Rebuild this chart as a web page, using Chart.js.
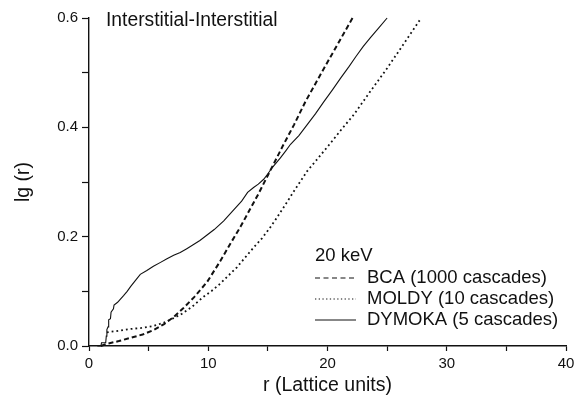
<!DOCTYPE html>
<html>
<head>
<meta charset="utf-8">
<script src="https://cdn.jsdelivr.net/npm/chart.js@4/dist/chart.umd.min.js"></script>
<style>
  html, body { margin: 0; padding: 0; background: #fff; }
  #wrap { width: 586px; height: 395px; }
</style>
</head>
<body>
<div id="wrap"><canvas id="chart" width="586" height="395"></canvas></div>
<script>
// r values (lattice units) and lg(r) for each curve
const bcaR = [1.0, 1.5, 2.5, 3.5, 4.5, 5.4, 6.3, 7.1, 7.9, 8.8, 9.9, 11.0, 11.85, 12.7, 13.5, 14.2, 14.9, 15.6, 16.3, 17.2, 18.15, 19.5, 20.8, 22.1];
const bcaY = [0, 0.004, 0.009, 0.015, 0.021, 0.029, 0.04, 0.053, 0.069, 0.089, 0.117, 0.155, 0.187, 0.218, 0.25, 0.278, 0.308, 0.338, 0.368, 0.405, 0.447, 0.5, 0.55, 0.6];

const moldyR = [1.5, 2.5, 3.4, 4.4, 5.3, 6.2, 7.0, 7.8, 8.6, 9.6, 10.3, 11.0, 11.7, 12.4, 13.1, 13.8, 14.5, 15.1, 15.7, 16.3, 17.3, 18.3, 19.3, 20.25, 21.2, 22.2, 23.6, 25.0, 26.4, 27.8];
const moldyY = [0.025, 0.028, 0.031, 0.033, 0.036, 0.042, 0.05, 0.059, 0.071, 0.09, 0.101, 0.114, 0.129, 0.144, 0.162, 0.18, 0.197, 0.214, 0.233, 0.253, 0.287, 0.32, 0.346, 0.371, 0.397, 0.423, 0.466, 0.508, 0.553, 0.598];

const dymokaR = [0.7, 1.0, 1.05, 1.4, 1.45, 1.5, 1.6, 1.65, 1.8, 1.85, 2.05, 2.1, 2.4, 2.6, 2.9, 3.2, 3.5, 3.9, 4.3, 4.85, 5.4, 6.0, 6.5, 7.1, 7.65, 8.2, 8.8, 9.3, 9.9, 10.5, 11.3, 12.0, 12.8, 13.3, 13.8, 14.2, 14.65, 15.0, 15.35, 16.05, 16.5, 16.9, 17.6, 18.3, 19.0, 19.7, 20.4, 21.1, 21.8, 22.4, 23.0, 23.6, 24.3, 25.0];
const dymokaY = [0, 0, 0.006, 0.006, 0.018, 0.03, 0.035, 0.048, 0.05, 0.062, 0.068, 0.075, 0.08, 0.085, 0.092, 0.1, 0.109, 0.12, 0.131, 0.138, 0.146, 0.153, 0.159, 0.166, 0.171, 0.178, 0.186, 0.193, 0.203, 0.213, 0.229, 0.246, 0.265, 0.281, 0.29, 0.296, 0.305, 0.315, 0.326, 0.344, 0.357, 0.369, 0.385, 0.405, 0.425, 0.447, 0.468, 0.49, 0.511, 0.53, 0.548, 0.564, 0.582, 0.6];

const seriesNames = ['BCA (1000 cascades)', 'MOLDY (10 cascades)', 'DYMOKA (5 cascades)'];
const panelTitle = 'Interstitial-Interstitial';
const legendTitle = '20 keV';

const FONT = '"Liberation Sans", Arial, Helvetica, sans-serif';
const INK = '#111';

function toPoints(xs, ys) {
  return xs.map((x, i) => ({ x: x, y: ys[i] }));
}

// Panel label and inset legend, drawn on top of the chart
const annotations = {
  id: 'annotations',
  afterDraw(chart) {
    const ctx = chart.ctx;
    ctx.save();
    ctx.fillStyle = INK;
    ctx.textBaseline = 'middle';
    ctx.textAlign = 'left';
    ctx.font = '19.3px ' + FONT;
    ctx.fillText(panelTitle, 106, 21);

    ctx.font = '18.5px ' + FONT;
    ctx.fillText(legendTitle, 315, 256);

    const rows = [
      { y: 278, dash: [5, 3.5], width: 1.2 },
      { y: 299, dash: [1.3, 2.4], width: 1.2 },
      { y: 320, dash: [], width: 1 }
    ];
    rows.forEach((row, i) => {
      ctx.beginPath();
      ctx.setLineDash(row.dash);
      ctx.lineWidth = row.width;
      ctx.strokeStyle = INK;
      ctx.moveTo(315, row.y);
      ctx.lineTo(356, row.y);
      ctx.stroke();
      ctx.fillText(seriesNames[i], 367, row.y);
    });
    ctx.restore();
  }
};

const ctx = document.getElementById('chart').getContext('2d');
new Chart(ctx, {
  type: 'line',
  data: {
    datasets: [
      {
        label: seriesNames[0],
        data: toPoints(bcaR, bcaY),
        borderColor: INK,
        borderWidth: 2,
        borderDash: [5, 3],
        pointRadius: 0,
        tension: 0
      },
      {
        label: seriesNames[1],
        data: toPoints(moldyR, moldyY),
        borderColor: INK,
        borderWidth: 1.8,
        borderDash: [1.8, 3],
        pointRadius: 0,
        tension: 0
      },
      {
        label: seriesNames[2],
        data: toPoints(dymokaR, dymokaY),
        borderColor: INK,
        borderWidth: 1.1,
        pointRadius: 0,
        tension: 0
      }
    ]
  },
  options: {
    responsive: false,
    animation: false,
    clip: false,
    layout: { padding: { top: 18, right: 20, left: 0, bottom: 0 } },
    plugins: {
      legend: { display: false },
      tooltip: { enabled: false }
    },
    scales: {
      x: {
        type: 'linear',
        min: 0,
        max: 40,
        afterFit: s => { s.height = 49; },
        border: { color: INK, width: 1.4 },
        grid: { drawOnChartArea: false, drawTicks: true, tickLength: 5, color: INK, tickWidth: 1.2 },
        ticks: {
          stepSize: 5,
          padding: 4,
          color: INK,
          font: { family: FONT, size: 15 },
          maxRotation: 0,
          callback: v => (v % 10 === 0 ? String(v) : '')
        },
        title: {
          display: true,
          text: 'r (Lattice units)',
          color: INK,
          font: { family: FONT, size: 19.5, lineHeight: 1 },
          padding: { top: 0, bottom: 0 }
        }
      },
      y: {
        min: 0,
        max: 0.6,
        afterFit: s => { s.width = 89; },
        border: { color: INK, width: 1.4 },
        grid: { drawOnChartArea: false, drawTicks: true, tickLength: 7, color: INK, tickWidth: 1.2 },
        ticks: {
          stepSize: 0.1,
          padding: 4,
          color: INK,
          font: { family: FONT, size: 15 },
          callback: v => (Math.round(v * 10) % 2 === 0 ? v.toFixed(1) : '')
        },
        title: {
          display: true,
          text: 'lg (r)',
          color: INK,
          font: { family: FONT, size: 19.5, lineHeight: 1.2 },
          padding: { top: 12, bottom: 0 }
        }
      }
    }
  },
  plugins: [annotations]
});
</script>
</body>
</html>
